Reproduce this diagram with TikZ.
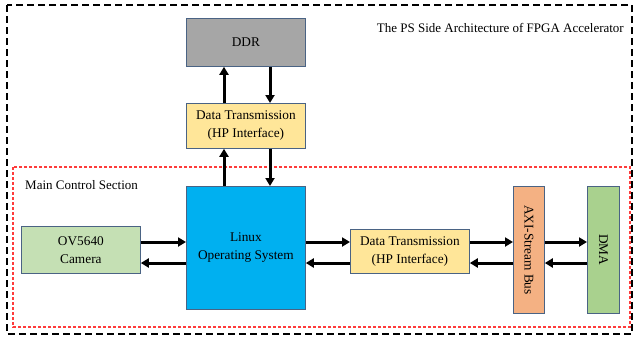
\documentclass[tikz,border=0pt]{standalone}
\usepackage{fontspec}
\setmainfont{Liberation Serif}
\usetikzlibrary{arrows.meta}
\definecolor{ddrgray}{HTML}{A6A6A6}
\definecolor{dtyellow}{HTML}{FFE699}
\definecolor{osblue}{HTML}{00B0F0}
\definecolor{camgreen}{HTML}{C5E0B4}
\definecolor{axiorange}{HTML}{F4B183}
\definecolor{dmagreen}{HTML}{A9D18E}
\definecolor{boxline}{HTML}{4A6384}
\definecolor{redline}{HTML}{FF3B3B}
\tikzset{
  blk/.style={draw=boxline, line width=0.8pt, inner sep=0pt, anchor=north west, align=center,
    font=\fontsize{13.3}{18}\selectfont},
  arr/.style={line width=3pt, -{Triangle[length=8pt,width=9pt]}},
  lbl/.style={font=\fontsize{13}{16}\selectfont, inner sep=0pt}
}
\begin{document}
\begin{tikzpicture}[x=1pt,y=-1pt]
\useasboundingbox (0,0) rectangle (634,338);
% outer dashed frame
\draw[line width=2.2pt, dash pattern=on 7pt off 4pt] (7,5) rectangle (632,334);
% red dotted frame
\draw[redline, line width=1.1pt, dash pattern=on 3pt off 2pt] (13,167) rectangle (630,327);
\node[lbl, anchor=east] (title) at (624,28) {The PS Side Architecture of FPGA Accelerator};
\node[lbl, anchor=west] (mcs) at (25,185) {Main Control Section};
% blocks
\node[blk, fill=ddrgray, minimum width=119pt, minimum height=48pt] (ddr) at (186,18) {DDR};
\node[blk, fill=dtyellow, minimum width=119pt, minimum height=45pt] (dt1) at (186,103) {Data Transmission\\(HP Interface)};
\node[blk, fill=osblue, minimum width=119pt, minimum height=123pt] (os) at (186,186) {Linux\\Operating System};
\node[blk, fill=camgreen, minimum width=119pt, minimum height=47pt] (cam) at (21,226) {OV5640\\Camera};
\node[blk, fill=dtyellow, minimum width=119pt, minimum height=44pt] (dt2) at (350,229) {Data Transmission\\(HP Interface)};
\node[blk, fill=axiorange, minimum width=31pt, minimum height=127pt] (axi) at (513,186) {};
\node[rotate=-90, font=\fontsize{13.3}{18}\selectfont, inner sep=0pt] (axitext) at (axi.center) {AXI-Stream Bus};
\node[blk, fill=dmagreen, minimum width=32pt, minimum height=127pt] (dma) at (587,186) {};
\node[rotate=-90, font=\fontsize{13.3}{18}\selectfont, inner sep=0pt] (dmatext) at (dma.center) {DMA};
% vertical arrows
\draw[arr] (dt1.north -| 224,0) -- (ddr.south -| 224,0);
\draw[arr] (ddr.south -| 270,0) -- (dt1.north -| 270,0);
\draw[arr] (os.north -| 224,0) -- (dt1.south -| 224,0);
\draw[arr] (dt1.south -| 270,0) -- (os.north -| 270,0);
% horizontal arrows
\draw[arr] (cam.east |- 0,242) -- (os.west |- 0,242);
\draw[arr] (os.west |- 0,263) -- (cam.east |- 0,263);
\draw[arr] (os.east |- 0,242) -- (dt2.west |- 0,242);
\draw[arr] (dt2.west |- 0,263) -- (os.east |- 0,263);
\draw[arr] (dt2.east |- 0,242) -- (axi.west |- 0,242);
\draw[arr] (axi.west |- 0,263) -- (dt2.east |- 0,263);
\draw[arr] (axi.east |- 0,242) -- (dma.west |- 0,242);
\draw[arr] (dma.west |- 0,263) -- (axi.east |- 0,263);
\end{tikzpicture}
\end{document}
